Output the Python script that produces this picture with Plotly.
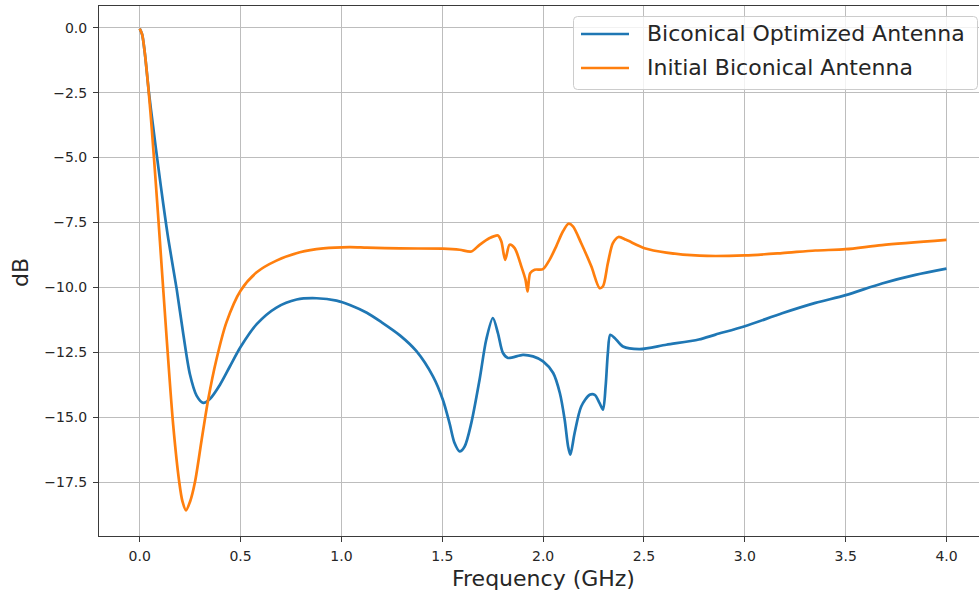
import plotly.graph_objects as go

# ---- data -------------------------------------------------------------
series_names = ["Biconical Optimized Antenna", "Initial Biconical Antenna"]
series_colors = ["#1f77b4", "#ff7f0e"]

freq_optimized = [
    0.0, 0.012, 0.025, 0.045, 0.068, 0.092, 0.117, 0.142, 0.183, 0.216, 0.249,
    0.282, 0.315, 0.348, 0.398, 0.447, 0.5, 0.58, 0.678, 0.778, 0.877, 0.976,
    1.042, 1.126, 1.2, 1.29, 1.371, 1.454, 1.503, 1.536, 1.561, 1.586, 1.611,
    1.644, 1.685, 1.718, 1.751, 1.776, 1.801, 1.826, 1.9, 1.95, 2.0, 2.05,
    2.083, 2.107, 2.124, 2.135, 2.156, 2.189, 2.231, 2.256, 2.28, 2.297, 2.31,
    2.321, 2.333, 2.355, 2.396, 2.479, 2.611, 2.772, 2.855, 3.0, 3.185, 3.35,
    3.5, 3.68, 3.846, 4.0,
]
db_optimized = [
    -0.03, -0.25, -0.95, -2.45, -3.9, -5.35, -6.8, -8.15, -10.05, -11.8,
    -13.35, -14.17, -14.45, -14.3, -13.75, -13.05, -12.3, -11.42, -10.78,
    -10.47, -10.42, -10.51, -10.68, -10.98, -11.35, -11.85, -12.45, -13.43,
    -14.33, -15.23, -16.0, -16.32, -16.13, -15.23, -13.56, -12.02, -11.18,
    -11.76, -12.53, -12.72, -12.6, -12.66, -12.85, -13.3, -14.07, -15.1,
    -16.13, -16.45, -15.62, -14.59, -14.14, -14.14, -14.46, -14.71, -13.81,
    -12.53, -11.83, -11.95, -12.28, -12.38, -12.21, -12.01, -11.82, -11.5,
    -11.0, -10.6, -10.3, -9.85, -9.52, -9.28,
]

freq_initial = [
    0.0, 0.012, 0.025, 0.045, 0.06, 0.08, 0.1, 0.134, 0.166, 0.196, 0.212,
    0.2295, 0.25, 0.274, 0.307, 0.34, 0.381, 0.43, 0.5, 0.58, 0.678, 0.794,
    0.91, 1.04, 1.126, 1.29, 1.503, 1.586, 1.644, 1.685, 1.735, 1.776, 1.793,
    1.812, 1.834, 1.859, 1.892, 1.913, 1.923, 1.936, 1.958, 1.999, 2.032,
    2.065, 2.098, 2.126, 2.148, 2.189, 2.239, 2.28, 2.297, 2.321, 2.346, 2.374,
    2.412, 2.503, 2.611, 2.776, 3.0, 3.185, 3.35, 3.5, 3.68, 4.0,
]
db_initial = [
    -0.03, -0.25, -0.95, -2.5, -3.9, -6.0, -8.2, -12.0, -15.3, -17.5, -18.25,
    -18.59, -18.25, -17.5, -15.88, -14.3, -12.76, -11.35, -10.13, -9.42,
    -8.97, -8.65, -8.5, -8.45, -8.47, -8.5, -8.51, -8.55, -8.62, -8.36, -8.10,
    -8.0, -8.23, -8.94, -8.36, -8.49, -9.19, -9.71, -10.16, -9.45, -9.32,
    -9.30, -8.94, -8.42, -7.85, -7.55, -7.65, -8.30, -9.19, -10.03, -9.96,
    -9.07, -8.30, -8.06, -8.17, -8.49, -8.66, -8.78, -8.77, -8.68, -8.58,
    -8.53, -8.37, -8.17,
]

x_ticks = [0.0, 0.5, 1.0, 1.5, 2.0, 2.5, 3.0, 3.5, 4.0]
y_ticks = [0.0, -2.5, -5.0, -7.5, -10.0, -12.5, -15.0, -17.5]

# ---- layout geometry (pixels) ----------------------------------------
W, H = 979, 592
ML, MR, MT, MB = 99, 0, 6, 56
PW, PH = W - ML - MR, H - MT - MB
FONT = "DejaVu Sans"


def px_x(px):
    return (px - ML) / PW


def px_y(py):
    return 1 - (py - MT) / PH


def fmt(v):
    return f"{v:.1f}".replace("-", "\u2212")


fig = go.Figure()
fig.add_trace(go.Scatter(
    x=freq_optimized, y=db_optimized, mode="lines", name=series_names[0],
    line=dict(color=series_colors[0], width=2.7, shape="spline", smoothing=0.8),
    showlegend=False,
))
fig.add_trace(go.Scatter(
    x=freq_initial, y=db_initial, mode="lines", name=series_names[1],
    line=dict(color=series_colors[1], width=2.7, shape="spline", smoothing=0.8),
    showlegend=False,
))

axis_common = dict(
    showgrid=True, gridcolor="#bdbdbd", gridwidth=1, zeroline=False,
    showline=True, linecolor="#3a3a3a", linewidth=1,
    ticks="outside", ticklen=5, tickwidth=1, tickcolor="#3a3a3a",
    tickfont=dict(family=FONT, size=14, color="#262626"),
)

fig.update_xaxes(
    range=[(ML - 139.7) / 201.7, (W - 139.7) / 201.7],
    tickvals=x_ticks, ticktext=[fmt(v) for v in x_ticks],
    mirror=True, ticklabelstandoff=2, **axis_common,
)
fig.update_yaxes(
    range=[-19.58, 0.84],
    tickvals=y_ticks, ticktext=[fmt(v) for v in y_ticks],
    mirror=False, ticklabelstandoff=3, **axis_common,
)

# axis titles
annotations = [
    dict(text="Frequency (GHz)", x=px_x(543), y=px_y(578), xref="paper",
         yref="paper", showarrow=False, xanchor="center", yanchor="middle",
         font=dict(family=FONT, size=22, color="#262626")),
    dict(text="dB", x=px_x(20), y=px_y(273), xref="paper", yref="paper",
         showarrow=False, xanchor="center", yanchor="middle", textangle=-90,
         font=dict(family=FONT, size=22, color="#262626")),
]

# legend box with rounded corners
bx0, bx1, by0, by1, r = 573.5, 977.5, 16.5, 89.5, 4
rx, ry = r / PW, r / PH
X0, X1, Y0, Y1 = px_x(bx0), px_x(bx1), px_y(by1), px_y(by0)
box_path = (
    f"M{X0 + rx},{Y0} L{X1 - rx},{Y0} Q{X1},{Y0} {X1},{Y0 + ry} "
    f"L{X1},{Y1 - ry} Q{X1},{Y1} {X1 - rx},{Y1} L{X0 + rx},{Y1} "
    f"Q{X0},{Y1} {X0},{Y1 - ry} L{X0},{Y0 + ry} Q{X0},{Y0} {X0 + rx},{Y0} Z"
)
shapes = [dict(type="path", path=box_path, xref="paper", yref="paper",
               fillcolor="rgba(255,255,255,0.8)",
               line=dict(color="#cccccc", width=1), layer="above")]

row_y = [34, 68]
for name, color, ry_px in zip(series_names, series_colors, row_y):
    shapes.append(dict(type="line", xref="paper", yref="paper",
                       x0=px_x(581), x1=px_x(629), y0=px_y(ry_px), y1=px_y(ry_px),
                       line=dict(color=color, width=2.7), layer="above"))
    annotations.append(dict(text=name, x=px_x(645), y=px_y(ry_px), xref="paper",
                            yref="paper", showarrow=False, xanchor="left",
                            yanchor="middle",
                            font=dict(family=FONT, size=22, color="#262626")))

fig.update_layout(
    width=W, height=H,
    margin=dict(l=ML, r=MR, t=MT, b=MB, pad=0),
    paper_bgcolor="white", plot_bgcolor="white",
    font=dict(family=FONT),
    shapes=shapes, annotations=annotations,
    showlegend=False,
)

fig.write_html("out.html")
